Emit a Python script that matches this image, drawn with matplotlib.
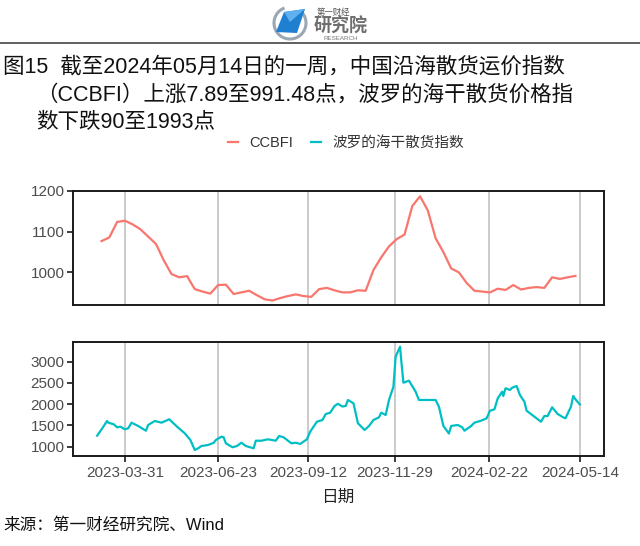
import matplotlib
matplotlib.use('Agg')
import matplotlib.pyplot as plt
import matplotlib.dates as mdates
import pandas as pd
from matplotlib.patches import Arc, Polygon
from matplotlib.lines import Line2D

# ---------------- data ----------------
ccbfi_start = '2023-03-10'   # weekly (Fridays)
ccbfi_values = [1077, 1086, 1124, 1127, 1118, 1106, 1088, 1070, 1030, 996,
                988, 991, 959, 953, 948, 969, 970, 947, 951, 955,
                944, 934, 931, 937, 942, 946, 942, 940, 959, 962,
                956, 951, 951, 956, 955, 1006, 1037, 1064, 1082, 1093,
                1163, 1187, 1152, 1084, 1050, 1010, 1000, 974, 955, 953,
                951, 960, 957, 969, 958, 962, 964, 962, 988, 984,
                988, 991.48]

bdi_dates = ['2023-03-06', '2023-03-10', '2023-03-15', '2023-03-16', '2023-03-21',
             '2023-03-24', '2023-03-27', '2023-03-31', '2023-04-03', '2023-04-06',
             '2023-04-12', '2023-04-19', '2023-04-21', '2023-04-27', '2023-05-03',
             '2023-05-10', '2023-05-17', '2023-05-24', '2023-05-29', '2023-06-02',
             '2023-06-05', '2023-06-08', '2023-06-14', '2023-06-19', '2023-06-21',
             '2023-06-26', '2023-06-28', '2023-06-30', '2023-07-06', '2023-07-10',
             '2023-07-14', '2023-07-18', '2023-07-25', '2023-07-27', '2023-08-01',
             '2023-08-07', '2023-08-14', '2023-08-17', '2023-08-21', '2023-08-28',
             '2023-09-01', '2023-09-05', '2023-09-11', '2023-09-14', '2023-09-20',
             '2023-09-25', '2023-09-28', '2023-10-02', '2023-10-06', '2023-10-09',
             '2023-10-13', '2023-10-16', '2023-10-18', '2023-10-23', '2023-10-25',
             '2023-10-27', '2023-11-02', '2023-11-06', '2023-11-10', '2023-11-15',
             '2023-11-17', '2023-11-21', '2023-11-24', '2023-11-28', '2023-11-30',
             '2023-12-04', '2023-12-05', '2023-12-07', '2023-12-12', '2023-12-18',
             '2023-12-21', '2024-01-05', '2024-01-08', '2024-01-12', '2024-01-17',
             '2024-01-19', '2024-01-25', '2024-01-29', '2024-01-31', '2024-02-06',
             '2024-02-09', '2024-02-15', '2024-02-20', '2024-02-23', '2024-02-27',
             '2024-03-01', '2024-03-05', '2024-03-06', '2024-03-08', '2024-03-12',
             '2024-03-14', '2024-03-18', '2024-03-21', '2024-03-25', '2024-03-27',
             '2024-04-03', '2024-04-09', '2024-04-12', '2024-04-15', '2024-04-19',
             '2024-04-24', '2024-04-29', '2024-05-01', '2024-05-06', '2024-05-08',
             '2024-05-10', '2024-05-14']
bdi_values = [1259, 1409, 1605, 1565, 1527,
              1456, 1471, 1409, 1433, 1565,
              1487, 1376, 1511, 1605, 1565,
              1645, 1471, 1315, 1158, 922,
              962, 1016, 1040, 1090, 1158,
              1235, 1221, 1080, 986, 1016,
              1094, 1016, 962, 1141, 1141,
              1174, 1141, 1252, 1221, 1080,
              1094, 1064, 1174, 1353, 1588,
              1628, 1769, 1800, 1960, 2010,
              1945, 1958, 2099, 2021, 1786,
              1551, 1393, 1487, 1628, 1691,
              1800, 1746, 2099, 2412, 3118,
              3353, 3040, 2506, 2553, 2294,
              2099, 2099, 1941, 1487, 1310,
              1487, 1511, 1456, 1376, 1487,
              1565, 1612, 1668, 1847, 1880,
              2139, 2294, 2193, 2374, 2334,
              2388, 2428, 2216, 2059, 1847,
              1706, 1588, 1722, 1722, 1927,
              1769, 1691, 1668, 1941, 2193,
              2115, 1993]

tick_dates = ['2023-03-31', '2023-06-23', '2023-09-12', '2023-11-29', '2024-02-22', '2024-05-14']
series_names = ['CCBFI', '波罗的海干散货指数']
colors = ['#F8766D', '#00BFC4']

title_lines = ['图15  截至2024年05月14日的一周，中国沿海散货运价指数',
               '（CCBFI）上涨7.89至991.48点，波罗的海干散货价格指',
               '数下跌90至1993点']
source_text = '来源：第一财经研究院、Wind'
xlabel_text = '日期'

# ---------------- figure ----------------
FAM = ['Liberation Sans', 'Noto Sans CJK SC', 'DejaVu Sans']
plt.rcParams['font.family'] = FAM

W, H = 640, 546
fig = plt.figure(figsize=(W / 100, H / 100), dpi=100)

ccbfi_dates = pd.date_range(ccbfi_start, periods=len(ccbfi_values), freq='7D')
bdi_d = pd.to_datetime(bdi_dates)
ticks = pd.to_datetime(tick_dates)

dmin = min(ccbfi_dates.min(), bdi_d.min())
dmax = max(ccbfi_dates.max(), bdi_d.max())
span = (dmax - dmin) * 0.05
xlim = (dmin - span, dmax + span)


def px_axes(l, t, r, b):
    return fig.add_axes([l / W, 1 - b / H, (r - l) / W, (b - t) / H])


ax1 = px_axes(73, 191, 604, 305)
ax2 = px_axes(73, 342, 604, 456)

for ax in (ax1, ax2):
    ax.set_xlim(*xlim)
    ax.set_xticks(ticks)
    ax.grid(axis='x', color='#bdbdbd', linewidth=1.1)
    ax.set_axisbelow(True)
    for s in ax.spines.values():
        s.set_color('#1a1a1a')
        s.set_linewidth(1.4)
    ax.tick_params(axis='both', direction='out', length=4, width=1.2,
                   color='#1a1a1a', labelsize=11, labelcolor='#4d4d4d', pad=2)

ax1.plot(ccbfi_dates, ccbfi_values, color=colors[0], lw=1.6)
ax1.set_ylim(920, 1200)
ax1.set_yticks([1000, 1100, 1200])
ax1.tick_params(axis='x', length=0, labelbottom=False)

ax2.plot(bdi_d, bdi_values, color=colors[1], lw=1.6)
ax2.set_ylim(781, 3463)
ax2.set_yticks([1000, 1500, 2000, 2500, 3000])
ax2.xaxis.set_major_formatter(mdates.DateFormatter('%Y-%m-%d'))
ax2.tick_params(axis='x', pad=3)

# x label
fig.text(338 / W, 1 - 497 / H, xlabel_text, ha='center', va='center',
         fontsize=12, color='#222222', family=FAM)

# legend
handles = [Line2D([0], [0], color=c, lw=1.6) for c in colors]
fig.legend(handles, series_names, loc='center', bbox_to_anchor=(346 / W, 1 - 143 / H),
           ncol=2, frameon=False, fontsize=10.5, handlelength=0.7, handletextpad=0.8,
           columnspacing=1.2, labelcolor='#333333')

# title
fig.text(3 / W, 1 - 67 / H, title_lines[0], ha='left', va='center', fontsize=15.5,
         color='#111111', family=FAM)
fig.text(36 / W, 1 - 95 / H, title_lines[1], ha='left', va='center', fontsize=15.5,
         color='#111111', family=FAM)
fig.text(36 / W, 1 - 122 / H, title_lines[2], ha='left', va='center', fontsize=15.5,
         color='#111111', family=FAM)

# source
fig.text(3 / W, 1 - 525 / H, source_text, ha='left', va='center', fontsize=12,
         color='#111111', family=FAM)

# header logo + rule
ov = fig.add_axes([0, 0, 1, 1], zorder=-1)
ov.set_xlim(0, W)
ov.set_ylim(H, 0)
ov.axis('off')
ov.plot([0, W], [43, 43], color='#444444', lw=1.2)
ov.add_patch(Arc((290, 23), 32, 32, theta1=-40, theta2=250, color='#9aa7b4', lw=2.2))
ov.add_patch(Polygon([(284, 12), (305, 9), (297, 33), (276, 32)], closed=True,
                     facecolor='#1f7fd0', edgecolor='none'))
ov.add_patch(Polygon([(284, 12), (305, 9), (290, 22)], closed=True,
                     facecolor='#5fb0ee', edgecolor='none'))
ov.text(333, 13, '第一财经', ha='center', va='center', fontsize=6, color='#555555',
        family=FAM)
ov.text(341, 27, '研究院', ha='center', va='center', fontsize=13, color='#6e6e6e',
        family=FAM, fontweight='bold')
ov.text(341, 39, 'RESEARCH', ha='center', va='center', fontsize=4.5, color='#777777',
        family=FAM)

fig.savefig('out.png', dpi=100)
